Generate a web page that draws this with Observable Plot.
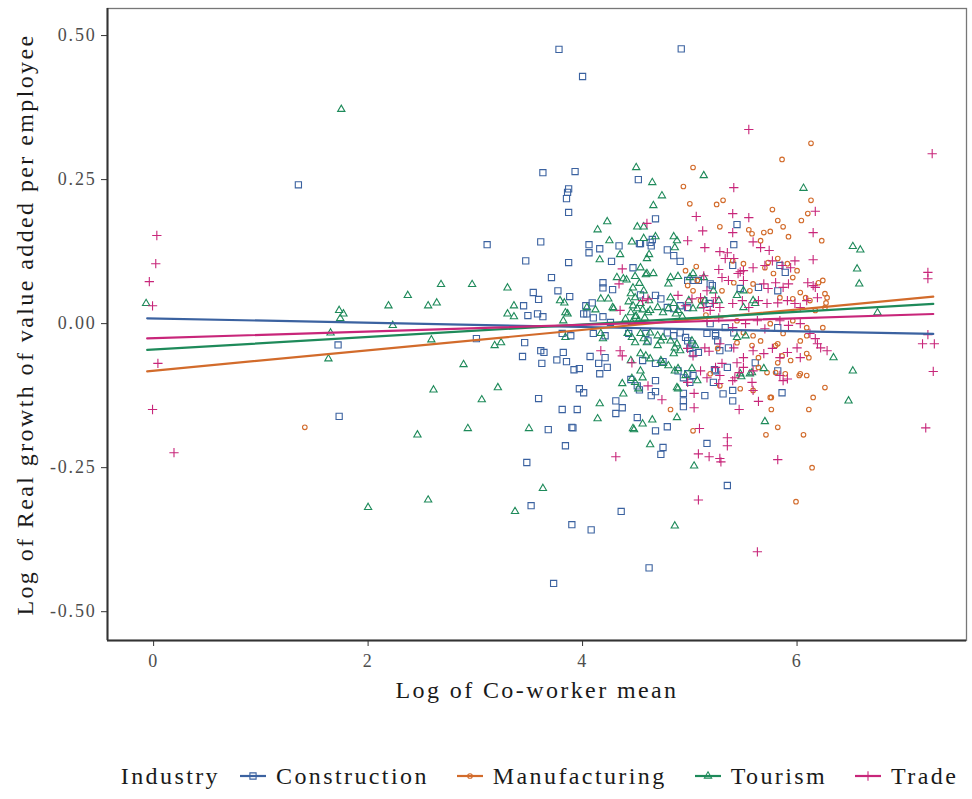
<!DOCTYPE html>
<html><head><meta charset="utf-8">
<script src="https://cdn.jsdelivr.net/npm/d3@7"></script>
<script src="https://cdn.jsdelivr.net/npm/@observablehq/plot@0.6"></script>
<style>
body{margin:0;background:#fff;}
#chart{width:972px;}
#chart svg text{letter-spacing:0.1em;}
g[aria-label="x-axis tick label"], g[aria-label="y-axis tick label"]{fill:#4d4d4d;}
.legend{display:flex;align-items:center;justify-content:center;width:972px;height:79px;padding-left:107px;padding-top:33px;box-sizing:border-box;font-family:"Liberation Serif",serif;font-size:24px;letter-spacing:0.1em;color:#1a1a1a;white-space:nowrap;}
.legend .ttl{margin-right:18px;}
.legend svg{display:block;margin-right:8px;}
.legend .lab{margin-right:26px;}
.legend .lab:last-child{margin-right:0;}
</style></head>
<body>
<div id="chart"></div>
<script>
const industries = ["Construction","Manufacturing","Tourism","Trade"];
const colors = ["#3b62a0","#d26b2b","#1e8a5a","#c8267a"];
const symbols = ["square","circle","triangle","plus"];
const symbolRadius = [3.5, 2.3, 2.7, 3.1];
const xTicks = [0,2,4,6];
const yTicks = [-0.5,-0.25,0,0.25,0.5];
const xDomain = [-0.43, 7.58];
const yDomain = [-0.55, 0.547];
const xTitle = "Log of Co-worker mean";
const yTitle = "Log of Real growth of value added per employee";
const legendTitle = "Industry";
// fitted linear trends
const fitIntercept = [0.009, -0.0817, -0.045, -0.0252];
const fitSlope = [-0.0037, 0.0177, 0.0109, 0.00577];
const fitRange = [-0.06, 7.27];

const constructionPts = [
[1.35,0.241],[1.72,-0.037],[1.73,-0.161],
[3.78,0.476],[4.92,0.477],[4.00,0.429],[3.63,0.262],[3.93,0.264],[3.87,0.234],[3.86,0.228],[3.85,0.217],[3.87,0.193],[4.52,0.250],[4.68,0.182],
[3.11,0.137],[3.61,0.142],[4.06,0.137],[4.06,0.123],[4.16,0.130],[4.34,0.135],[4.53,0.139],[4.65,0.146],[4.64,0.135],[4.79,0.128],[4.85,0.118],[4.91,0.108],[4.27,0.108],[3.47,0.109],[3.87,0.106],[3.71,0.080],[4.47,0.097],[4.54,0.139],[4.63,0.141],
[3.54,0.054],[3.59,0.042],[3.77,0.057],[3.88,0.047],[4.19,0.071],[4.19,0.062],[4.28,0.059],[3.45,0.031],[3.49,0.014],[3.58,0.017],[3.63,0.012],[4.03,0.031],[4.01,0.017],[4.09,0.036],[4.19,0.012],[4.04,0.017],[4.10,0.010],[4.26,0.002],
[4.73,0.043],[4.68,0.049],[4.54,0.050],[4.79,0.028],[4.85,0.026],[4.91,0.031],[4.98,0.028],[5.13,0.040],[5.18,0.035],[4.98,0.075],[5.03,0.075],[5.08,0.075],[5.21,0.066],[5.19,0.069],[5.47,0.061],[5.82,0.057],[5.64,0.063],[5.40,0.101],[5.84,0.101],[5.89,0.089],[5.41,0.137],[5.44,0.172],
[3.81,-0.017],[3.89,-0.021],[4.10,-0.017],[4.21,-0.021],[4.43,-0.017],[4.59,-0.017],[4.61,-0.030],[4.79,-0.016],[4.85,-0.021],[4.91,-0.016],[4.96,-0.024],[4.98,-0.030],[5.02,-0.035],[5.00,-0.043],[5.16,-0.017],[5.24,-0.017],[5.26,-0.030],[5.19,0.000],[5.33,-0.007],[5.24,-0.021],[5.41,-0.016],[5.82,-0.007],
[3.01,-0.026],[3.46,-0.033],[3.44,-0.057],[3.61,-0.047],[3.64,-0.050],[3.62,-0.069],[3.82,-0.050],[3.76,-0.063],[3.85,-0.066],[3.92,-0.080],[3.97,-0.078],[4.07,-0.057],[4.15,-0.069],[4.21,-0.059],[4.23,-0.076],[4.16,-0.087],
[4.56,-0.064],[4.68,-0.069],[4.75,-0.066],[4.89,-0.082],[4.98,-0.087],[5.03,-0.090],[4.94,-0.094],[5.00,-0.102],[5.03,-0.052],[5.08,-0.050],[5.28,-0.047],[5.36,-0.042],[5.24,-0.082],[5.35,-0.076],[5.61,-0.068],[5.82,-0.082],[5.22,-0.102],[5.31,-0.122],[5.40,-0.116],[5.86,-0.120],[5.23,-0.080],
[3.59,-0.130],[3.97,-0.113],[4.01,-0.120],[3.81,-0.149],[3.95,-0.149],[4.31,-0.134],[4.37,-0.146],[4.31,-0.156],[3.68,-0.184],[3.90,-0.180],[3.84,-0.212],[3.48,-0.241],[3.91,-0.181],
[4.45,-0.097],[4.51,-0.108],[4.53,-0.115],[4.68,-0.099],[4.68,-0.118],[4.64,-0.125],[4.94,-0.121],[4.94,-0.134],[4.94,-0.144],[5.14,-0.125],[5.40,-0.134],
[4.51,-0.163],[4.68,-0.186],[4.79,-0.179],[4.75,-0.215],[4.73,-0.227],[5.16,-0.208],[5.35,-0.281],
[3.52,-0.316],[3.90,-0.349],[4.08,-0.358],[4.36,-0.326],[4.62,-0.424],[3.73,-0.451]
];
const manufacturingPts = [
[1.41,-0.180],
[5.03,0.271],[4.94,0.238],[5.00,0.208],[6.13,0.313],[5.86,0.285],[6.13,0.214],[5.25,0.207],[5.31,0.214],[5.77,0.198],[6.10,0.191],[6.04,0.179],[5.82,0.179],[5.87,0.168],[5.28,0.168],[5.55,0.163],[5.58,0.156],[5.69,0.158],[5.75,0.160],[5.92,0.151],[6.23,0.144],[5.66,0.144],
[5.06,0.099],[5.50,0.104],[5.73,0.106],[5.82,0.113],[5.91,0.104],[5.40,0.109],[6.00,0.092],[5.70,0.097],[4.96,0.092],
[5.30,0.057],[5.41,0.071],[5.56,0.057],[5.59,0.069],[5.78,0.087],[5.96,0.080],[6.03,0.054],[6.20,0.071],[6.24,0.075],[6.08,0.045],[6.12,0.040],[6.28,0.045],[6.26,0.052],[6.27,0.036],[5.84,0.045],[5.96,0.043],[6.17,0.023],[6.26,0.028],[5.03,0.057],[4.98,0.066],[5.07,0.075],[5.10,0.040],[5.15,0.015],
[5.44,0.005],[5.50,-0.016],[5.59,-0.021],[5.75,0.000],[5.96,0.005],[6.09,-0.007],[6.24,-0.007],
[5.26,-0.043],[5.44,-0.033],[5.64,-0.059],[5.80,-0.038],[5.86,-0.056],[6.09,-0.052],[5.64,-0.076],[5.72,-0.085],[5.94,-0.064],[6.03,-0.087],[5.19,-0.087],[5.28,-0.108],[5.47,-0.113],[5.75,-0.128],[5.89,-0.087],
[5.82,-0.035],[5.87,-0.017],[5.66,-0.030],[5.58,-0.038],[6.03,-0.030],[6.09,-0.021],
[6.26,-0.111],[6.15,-0.128],[6.11,-0.149],[6.02,-0.090],[6.09,-0.090],[6.06,-0.193],[6.14,-0.250],[5.99,-0.309],[5.71,-0.193],[5.82,-0.180],[5.76,-0.128],[5.76,-0.149],[5.59,-0.116],[5.82,-0.068],[5.80,-0.085],[6.11,-0.059],[5.03,-0.186],[4.82,-0.149]
];
const tourismPts = [
[-0.07,0.035],[1.75,0.372],[1.73,0.023],[1.77,0.017],[1.74,0.009],[2.19,0.031],[2.23,-0.003],[1.65,-0.016],[1.63,-0.061],[2.00,-0.319],
[2.68,0.068],[2.97,0.068],[3.30,0.062],[2.37,0.049],[2.56,0.031],[2.64,0.036],[3.36,0.031],[3.30,0.017],[3.36,0.012],
[3.79,0.040],[3.83,0.036],[3.86,0.017],[3.82,0.005],[3.84,0.019],[4.17,0.043],[4.24,0.043],[4.29,0.026],[4.04,0.028],[4.12,0.024],[4.28,0.028],
[4.50,0.271],[4.65,0.245],[4.74,0.222],[4.66,0.205],[4.23,0.177],[4.14,0.163],[4.51,0.168],[4.57,0.168],[4.25,0.144],[4.35,0.120],[4.46,0.142],[4.68,0.151],[4.85,0.151],[4.88,0.144],[4.86,0.132],[4.57,0.148],[4.62,0.120],[4.16,0.111],[4.60,0.113],[4.54,0.097],[4.60,0.087],[4.66,0.087],[4.32,0.080],[4.38,0.078],[4.41,0.076],[4.49,0.082],[4.59,0.085],[4.82,0.080],[4.89,0.082],[4.80,0.069],[5.00,0.080],[5.03,0.087],[5.13,0.080],[5.13,0.257],[6.06,0.235],[6.52,0.134],[6.59,0.128],[6.56,0.095],[6.58,0.069],[6.75,0.019],
[4.45,0.052],[4.49,0.045],[4.43,0.038],[4.47,0.031],[4.51,0.026],[4.45,0.019],[4.54,0.035],[4.56,0.024],[4.49,0.012],[4.58,0.010],[4.52,0.005],[4.46,0.002],[4.40,0.008],[4.62,0.040],[4.61,0.019],[4.63,0.023],[4.70,0.028],[4.75,0.019],[4.82,0.045],[4.85,0.035],[4.89,0.023],[4.80,0.026],[4.87,0.017],[4.93,0.012],[4.99,0.040],[5.03,0.026],[5.10,0.031],[4.47,0.062],[4.53,0.070],[4.57,0.057],[4.50,0.013],
[5.22,0.057],[5.27,0.040],[5.44,0.049],[5.50,0.057],[5.59,0.040],[5.14,0.040],[5.50,0.028],[5.61,0.035],
[3.84,-0.024],[4.17,-0.017],[4.19,-0.026],[4.42,-0.017],[4.46,-0.024],[4.54,-0.017],[4.57,-0.026],[4.49,-0.033],[4.60,-0.033],[4.63,-0.016],[4.70,-0.021],[4.73,-0.030],[4.70,-0.038],[4.75,-0.024],[4.82,-0.030],[4.88,-0.035],[4.86,-0.042],[4.91,-0.047],[4.85,-0.052],[5.02,-0.030],[5.05,-0.038],[4.45,-0.064],[4.54,-0.052],[4.59,-0.056],[4.63,-0.061],[4.73,-0.064],[4.75,-0.069],[4.80,-0.073],[4.86,-0.082],[4.89,-0.078],[4.96,-0.090],[5.02,-0.078],[5.07,-0.099],[4.54,-0.082],[4.56,-0.094],[4.46,-0.095],[4.49,-0.102],[4.37,-0.104],[4.38,-0.122],[4.52,-0.113],[4.88,-0.111],[5.44,-0.024],[5.52,-0.021],[5.47,-0.087],[5.56,-0.087],[5.69,-0.078],[5.58,-0.085],[5.48,-0.092],
[2.59,-0.028],[3.18,-0.038],[3.24,-0.033],[2.89,-0.071],[2.61,-0.115],[3.06,-0.132],[3.21,-0.111],[4.16,-0.139],[4.14,-0.165],[2.46,-0.193],[2.93,-0.182],[3.50,-0.182],[3.63,-0.286],[2.56,-0.306],[3.37,-0.326],[4.86,-0.351],[4.48,-0.184],[4.56,-0.174],[4.65,-0.167],[4.63,-0.210],[5.04,-0.247],[4.89,-0.113],[4.88,-0.163],[4.47,-0.182],
[6.34,-0.059],[6.52,-0.082],[6.48,-0.134],[5.70,-0.170]
];
const tradePts = [
[0.03,0.153],[0.02,0.104],[-0.04,0.073],[-0.01,0.031],[0.04,-0.069],[-0.01,-0.149],[0.19,-0.224],
[4.60,0.174],[4.98,0.144],[5.06,0.186],[5.12,0.161],[5.14,0.132],[4.37,0.095],[4.34,0.069],
[5.55,0.337],[7.26,0.295],[5.41,0.236],[5.40,0.191],[5.55,0.184],[6.17,0.195],[5.40,0.158],[6.15,0.158],[5.28,0.125],[5.35,0.123],[5.59,0.142],[5.66,0.132],[5.74,0.127],[6.15,0.111],[7.22,0.089],[7.22,0.078],[6.10,0.071],[6.15,0.066],
[5.33,0.113],[5.41,0.113],[5.50,0.092],[5.59,0.097],[5.77,0.109],[5.86,0.101],[5.94,0.097],[5.98,0.109],[5.27,0.094],[5.47,0.090],[5.70,0.101],
[5.13,0.083],[5.30,0.080],[5.36,0.075],[5.45,0.087],[5.50,0.075],[5.69,0.069],[5.73,0.061],[5.80,0.071],[5.87,0.063],[5.92,0.069],[6.17,0.063],
[5.16,0.057],[5.24,0.045],[4.56,0.040],[4.61,0.043],[4.89,0.049],[5.02,0.043],[5.10,0.045],[5.13,0.028],[5.19,0.023],[4.35,0.023],[4.96,0.031],
[5.22,0.035],[5.28,0.028],[5.40,0.035],[5.49,0.040],[5.55,0.028],[5.64,0.040],[5.72,0.035],[5.82,0.036],[5.91,0.040],[5.98,0.035],[6.03,0.028],[6.09,0.040],[6.19,0.045],
[5.16,0.005],[5.27,0.010],[5.40,-0.007],[5.52,0.000],[5.63,0.005],[5.70,-0.009],[5.84,0.005],[5.92,-0.003],[6.03,0.000],[6.12,-0.017],[6.17,-0.026],
[5.14,-0.042],[5.28,-0.035],[5.41,-0.042],[5.50,-0.059],[5.59,-0.047],[5.69,-0.052],[5.77,-0.043],[5.84,-0.059],[5.91,-0.050],[6.00,-0.042],[6.19,-0.035],[6.28,-0.047],[5.24,-0.076],[5.30,-0.069],[5.50,-0.076],[5.59,-0.082],
[4.98,-0.043],[5.03,-0.056],[5.18,-0.048],[4.17,-0.047],[4.35,-0.047],[4.37,-0.056],[4.46,-0.068],
[5.16,-0.094],[5.27,-0.104],[5.40,-0.099],[5.58,-0.102],[5.59,-0.116],[5.84,-0.090],[5.87,-0.099],[5.28,-0.090],[5.42,-0.094],[5.91,-0.096],[6.03,-0.059],[6.22,-0.042],[5.44,-0.068],[5.46,-0.085],[4.98,-0.102],[5.10,-0.082],
[4.61,-0.108],[4.74,-0.132],[5.04,-0.121],[5.04,-0.146],[5.09,-0.182],[5.64,-0.135],[5.46,-0.149],[5.35,-0.198],[5.35,-0.212],[5.18,-0.231],[5.28,-0.234],[5.29,-0.240],[4.31,-0.231],[5.08,-0.226],[5.08,-0.306],[5.63,-0.396],[5.82,-0.236],
[7.22,-0.019],[7.17,-0.035],[7.28,-0.035],[7.27,-0.083],[7.20,-0.181]
];

const seriesPts = [constructionPts, manufacturingPts, tourismPts, tradePts];
const points = industries.flatMap((ind, i) => seriesPts[i].map(([x, y]) => ({industry: ind, x, y})));
const fits = industries.flatMap((ind, i) => fitRange.map(x => ({industry: ind, x, y: fitIntercept[i] + fitSlope[i] * x})));

const plot = Plot.plot({
  width: 972, height: 720,
  marginLeft: 107, marginRight: 6, marginTop: 8, marginBottom: 80,
  style: {fontFamily: "'Liberation Serif', serif", fontSize: "18px", background: "white", color: "#1a1a1a"},
  x: {domain: xDomain},
  y: {domain: yDomain},
  color: {domain: industries, range: colors},
  marks: [
    Plot.frame({stroke: "#777", strokeWidth: 1.3}),
    ...industries.map((ind, i) => Plot.dot(points.filter(d => d.industry === ind), {
      x: "x", y: "y", symbol: symbols[i], r: symbolRadius[i], stroke: "industry", fill: "none", strokeWidth: 1.1
    })),
    Plot.line(fits, {x: "x", y: "y", z: "industry", stroke: "industry", strokeWidth: 2.2}),
    Plot.ruleX([xDomain[0]], {stroke: "#333", strokeWidth: 2}),
    Plot.ruleY([yDomain[0]], {stroke: "#333", strokeWidth: 2}),
    Plot.axisX({ticks: xTicks, tickFormat: d => String(d), tickSize: 6, tickPadding: 8, label: null, color: "#333"}),
    Plot.axisY({ticks: yTicks, tickFormat: d => d.toFixed(2), tickSize: 6, tickPadding: 5, label: null, color: "#333"}),
    Plot.text([xTitle], {text: d => d, frameAnchor: "bottom", dy: 57, fontSize: 24, fill: "#1a1a1a"}),
    Plot.text([yTitle], {text: d => d, frameAnchor: "left", textAnchor: "middle", rotate: -90, dx: -82, fontSize: 24, fill: "#1a1a1a"})
  ]
});
document.getElementById("chart").appendChild(plot);

// legend
const legend = document.createElement("div");
legend.className = "legend";
const t = document.createElement("span");
t.className = "ttl"; t.textContent = legendTitle;
legend.appendChild(t);
const symMap = {square: d3.symbolSquare, circle: d3.symbolCircle, triangle: d3.symbolTriangle, plus: d3.symbolPlus};
industries.forEach((ind, i) => {
  const svg = d3.create("svg").attr("width", 30).attr("height", 20);
  svg.append("line").attr("x1", 2).attr("x2", 28).attr("y1", 10).attr("y2", 10)
    .attr("stroke", colors[i]).attr("stroke-width", 2.2);
  svg.append("path").attr("transform", "translate(15,10)")
    .attr("d", d3.symbol(symMap[symbols[i]], Math.PI * symbolRadius[i] * symbolRadius[i])())
    .attr("fill", "none").attr("stroke", colors[i]).attr("stroke-width", 1.1);
  legend.appendChild(svg.node());
  const lab = document.createElement("span");
  lab.className = "lab"; lab.textContent = ind;
  legend.appendChild(lab);
});
document.getElementById("chart").appendChild(legend);
</script>
</body></html>
